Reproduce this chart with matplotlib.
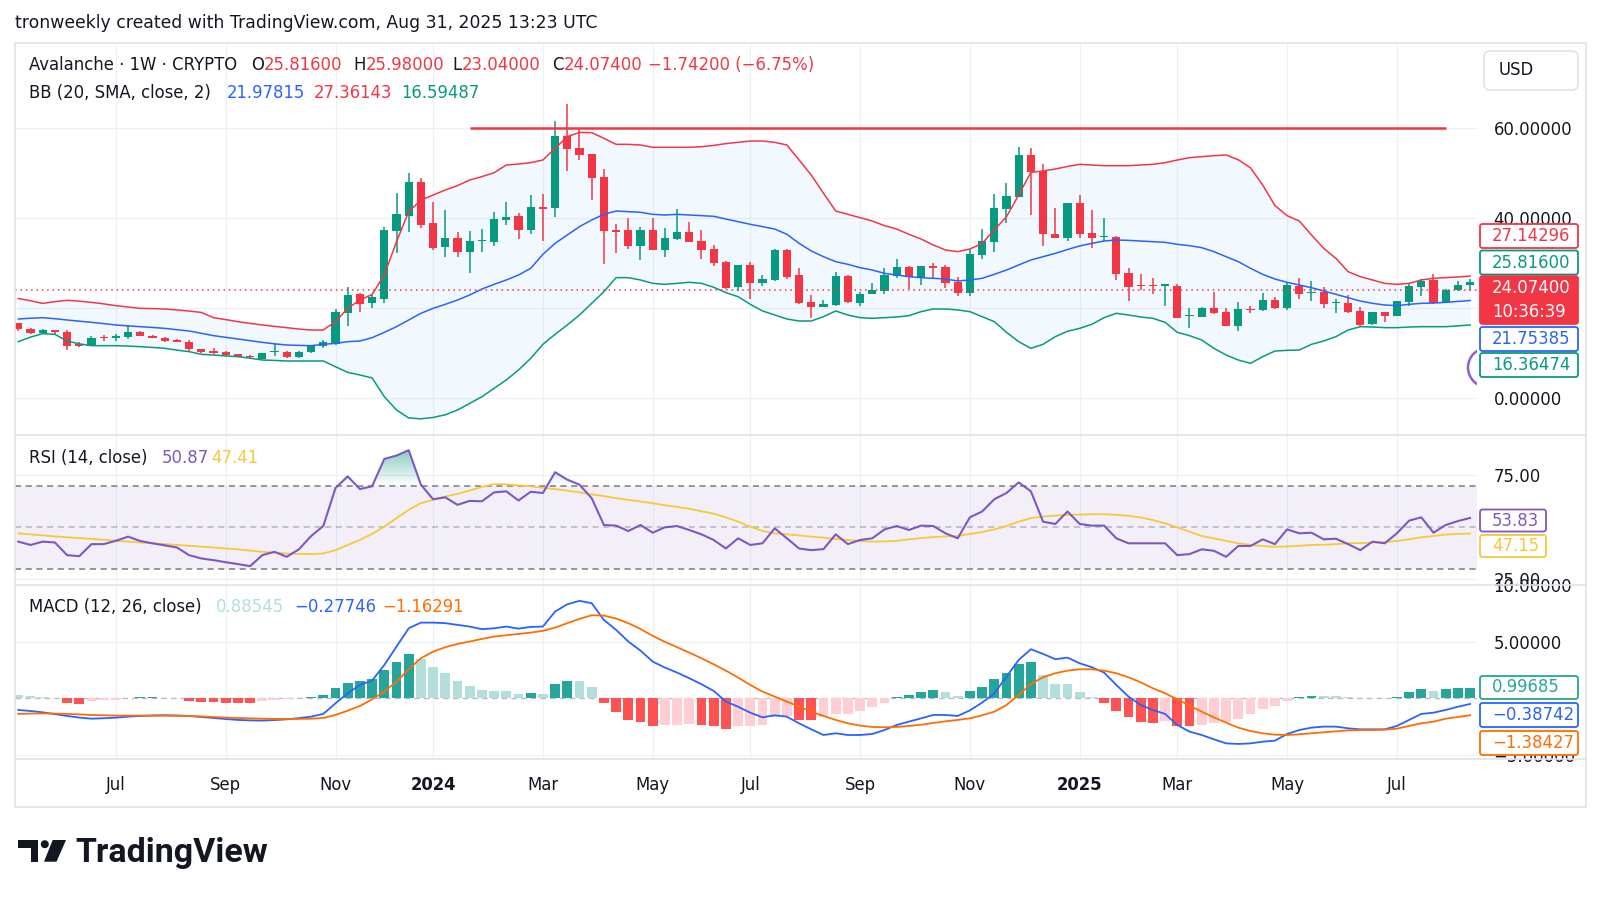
import numpy as np
import pandas as pd
import matplotlib
matplotlib.use("Agg")
import matplotlib.pyplot as plt
from matplotlib.patches import Rectangle, Circle, Polygon, FancyBboxPatch
from matplotlib.transforms import IdentityTransform
from matplotlib.colors import to_rgb
from matplotlib.path import Path

# ---------------- data (weekly AVAX bars) ----------------
opens = [16.56, 15.2, 14.35, 15.08, 14.72, 11.9, 11.6, 13.4, 13.2, 13.6,
         14.56, 13.82, 13.4, 12.8, 12.48, 10.85, 10.3, 10.1, 9.65, 9.3,
         8.62, 10.2, 10.26, 9.0, 10.1, 11.6, 11.9, 18.8, 23.0, 21.02,
         21.99, 37.13, 40.55, 47.97, 38.84, 33.64, 35.5, 32.5, 34.9, 34.6,
         39.6, 40.55, 37.35, 42.4, 42.2, 58.36, 55.7, 54.2, 49.2, 37.35,
         37.35, 33.86, 37.35, 32.9, 35.35, 36.97, 34.9, 33.1, 30.3, 24.73,
         29.56, 25.47, 26.22, 32.9, 27.33, 21.4, 20.2, 20.65, 27.18, 21.02,
         23.1, 23.77, 27.18, 29.19, 26.96, 29.3, 29.19, 25.7, 23.25, 31.77,
         34.6, 42.03, 44.78, 54.06, 50.5, 36.4, 35.5, 43.29, 36.6, 35.7,
         35.87, 27.7, 25.1, 25.0, 25.0, 24.96, 18.1, 18.05, 20.06, 19.0,
         16.05, 19.8, 19.54, 21.76, 19.91, 24.96, 23.4, 23.62, 21.1, 21.02,
         19.32, 16.35, 19.0, 18.27, 21.24, 24.73, 26.22, 21.24, 24.0, 25.2]
highs = [16.75, 15.5, 15.2, 15.15, 15.1, 12.4, 13.8, 14.0, 14.3, 16.3,
         14.9, 13.9, 13.5, 13.1, 12.85, 10.9, 11.0, 10.3, 9.8, 9.5,
         9.9, 12.1, 10.4, 10.3, 11.7, 12.85, 19.7, 24.7, 23.25, 22.9,
         38.1, 45.5, 49.97, 49.0, 43.66, 41.8, 37.0, 37.1, 37.6, 41.3,
         43.7, 41.1, 45.15, 45.4, 61.6, 65.34, 59.85, 54.3, 50.9, 38.8,
         40.1, 38.1, 40.1, 37.9, 41.95, 39.06, 37.35, 34.0, 30.45, 29.6,
         30.3, 27.33, 33.1, 33.1, 28.96, 22.88, 21.76, 28.07, 27.3, 23.6,
         25.6, 28.8, 30.9, 29.3, 29.41, 29.9, 29.56, 26.96, 33.12, 37.57,
         45.3, 47.75, 55.9, 55.54, 51.98, 42.17, 43.4, 45.15, 41.8, 40.1,
         36.0, 28.8, 27.48, 26.74, 25.3, 25.25, 20.06, 20.2, 23.47, 20.06,
         21.24, 20.5, 23.25, 22.5, 25.85, 26.74, 26.0, 24.73, 21.99, 22.88,
         20.28, 19.1, 19.1, 21.6, 25.47, 26.44, 27.48, 24.2, 25.9, 26.4]
lows = [14.9, 14.2, 14.1, 14.1, 10.6, 11.4, 11.5, 12.6, 12.6, 13.1,
        13.7, 13.3, 12.5, 12.3, 10.4, 10.0, 9.8, 9.3, 9.1, 8.8,
        8.55, 9.4, 8.9, 8.95, 10.0, 11.1, 11.8, 16.0, 19.17, 19.9,
        21.0, 32.16, 36.8, 37.7, 32.9, 31.4, 31.4, 27.7, 32.5, 33.9,
        38.5, 35.35, 36.4, 34.9, 40.3, 50.5, 52.95, 44.03, 29.7, 32.16,
        33.1, 30.7, 32.8, 31.4, 35.2, 34.6, 31.0, 29.4, 24.2, 23.77,
        21.99, 24.96, 26.1, 26.44, 20.9, 17.83, 20.1, 20.5, 21.1, 20.5,
        23.0, 23.0, 26.74, 24.21, 25.1, 26.74, 24.51, 22.73, 22.73, 30.9,
        32.5, 38.84, 44.6, 40.7, 33.86, 35.5, 34.9, 35.65, 33.27, 34.9,
        26.2, 21.6, 24.0, 23.0, 20.5, 17.7, 15.6, 17.9, 18.7, 15.95,
        14.86, 18.8, 19.4, 19.8, 19.54, 21.99, 21.54, 19.91, 18.8, 18.9,
        16.05, 16.2, 16.94, 18.1, 20.5, 22.73, 20.9, 21.0, 23.8, 23.7]
closes = [15.2, 14.35, 15.08, 14.72, 11.59, 11.55, 13.37, 13.25, 13.8, 14.6,
          13.82, 13.4, 12.55, 12.5, 10.85, 10.1, 10.0, 9.5, 9.15, 9.0,
          9.88, 10.5, 9.0, 10.26, 11.6, 12.5, 19.15, 22.9, 20.8, 22.36,
          37.35, 40.84, 47.97, 38.47, 33.42, 35.5, 32.5, 34.9, 35.1, 39.8,
          40.3, 37.35, 42.55, 42.0, 58.36, 55.4, 54.06, 49.0, 37.13, 37.0,
          33.86, 37.35, 32.9, 35.5, 36.97, 34.75, 32.9, 29.9, 24.36, 29.56,
          25.47, 26.44, 32.9, 26.96, 21.02, 20.28, 20.8, 27.18, 21.24, 23.17,
          23.99, 27.33, 29.19, 26.96, 29.26, 29.0, 25.47, 23.25, 32.08, 34.9,
          42.17, 45.0, 54.06, 50.35, 36.4, 35.65, 43.29, 36.4, 35.65, 36.1,
          27.48, 24.73, 24.8, 24.8, 25.2, 17.83, 18.4, 20.06, 18.8, 16.05,
          19.76, 19.6, 21.76, 19.91, 25.1, 23.03, 23.6, 20.8, 21.3, 19.02,
          16.2, 19.02, 18.3, 21.54, 24.96, 26.0, 21.02, 24.0, 25.2, 25.82]

bb_upper = [22.1, 21.6, 21.0, 21.4, 21.7, 21.5, 21.24, 20.9, 20.5, 20.2,
            19.9, 19.85, 19.76, 19.55, 19.3, 19.0, 17.83, 17.4, 16.94, 16.55,
            16.2, 15.9, 15.6, 15.3, 15.08, 15.08, 16.94, 19.9, 21.76, 23.0,
            27.33, 34.75, 41.44, 44.0, 45.15, 46.26, 47.23, 48.49, 49.23, 50.12,
            51.83, 52.05, 52.35, 52.94, 55.54, 58.14, 59.1, 59.03, 57.77, 56.43,
            56.43, 56.28, 55.77, 55.77, 55.77, 55.77, 55.9, 56.2, 56.6, 56.88,
            57.17, 57.17, 56.88, 56.28, 52.94, 49.6, 45.52, 41.58, 40.84, 40.1,
            39.36, 38.32, 37.57, 36.39, 35.35, 34.01, 32.9, 32.53, 33.12, 34.38,
            37.35, 40.32, 45.15, 50.2, 50.5, 50.94, 51.5, 51.98, 51.83, 51.68,
            51.68, 51.68, 51.83, 51.98, 52.35, 52.94, 53.46, 53.69, 53.91, 54.06,
            53.0, 51.2, 47.38, 42.8, 40.55, 39.36, 36.24, 33.27, 31.04, 28.07,
            26.96, 26.22, 25.47, 25.25, 25.47, 26.22, 26.59, 26.74, 26.9, 27.1]
bb_mid = [17.53, 17.7, 17.83, 17.6, 17.31, 17.05, 16.79, 16.5, 16.2, 16.0,
          15.82, 15.65, 15.45, 15.15, 14.86, 14.35, 13.82, 13.45, 13.08, 12.7,
          12.33, 12.0, 11.74, 11.65, 11.59, 11.89, 12.11, 12.48, 12.63, 13.37,
          14.56, 15.82, 17.31, 18.8, 19.9, 20.8, 21.76, 22.88, 24.21, 25.25,
          26.22, 27.33, 28.82, 31.93, 34.38, 36.24, 38.1, 39.58, 40.84, 41.58,
          41.44, 41.29, 40.84, 40.69, 40.84, 40.69, 40.55, 40.4, 39.8, 39.21,
          38.62, 38.1, 37.57, 36.39, 34.38, 32.68, 31.41, 30.3, 29.71, 28.96,
          28.44, 27.7, 27.33, 26.96, 26.74, 26.59, 26.44, 26.0, 26.22, 26.59,
          27.48, 28.44, 29.56, 30.67, 31.41, 32.16, 33.0, 33.8, 34.38, 34.9,
          35.12, 35.05, 34.9, 34.75, 34.6, 34.16, 33.86, 33.42, 32.53, 31.41,
          30.3, 28.82, 27.48, 26.44, 25.7, 25.1, 24.51, 23.77, 23.03, 22.28,
          21.54, 21.02, 20.65, 20.5, 20.8, 21.02, 21.09, 21.24, 21.45, 21.65]
bb_lower = [12.48, 13.5, 14.27, 14.12, 12.63, 12.0, 11.59, 11.59, 11.59, 11.5,
            11.37, 11.2, 11.0, 10.6, 10.26, 9.66, 9.51, 9.3, 9.14, 8.8,
            8.4, 8.3, 8.18, 8.18, 8.18, 8.18, 6.9, 5.65, 5.06, 4.4,
            0.23, -2.74, -4.5, -4.7, -4.4, -3.8, -2.74, -1.26, 0.22, 2.09,
            3.95, 6.17, 8.77, 11.89, 14.12, 16.2, 18.42, 21.02, 23.62, 26.74,
            26.74, 26.22, 25.47, 25.25, 25.47, 25.7, 25.47, 24.6, 23.4, 22.5,
            20.8, 19.32, 18.42, 17.53, 17.09, 17.09, 18.05, 19.32, 18.42, 17.83,
            17.68, 17.83, 17.98, 18.27, 19.17, 19.76, 19.76, 19.54, 19.17, 18.05,
            16.94, 14.56, 12.48, 11.0, 11.89, 13.6, 14.8, 15.45, 16.35, 17.83,
            18.8, 18.42, 17.98, 17.68, 16.79, 14.56, 13.82, 12.85, 11.0, 9.51,
            8.4, 7.66, 9.14, 10.4, 10.55, 10.63, 11.89, 12.63, 13.6, 15.08,
            15.82, 15.75, 15.6, 15.6, 15.75, 15.82, 15.82, 15.82, 16.0, 16.2]

rsi = [43.1, 41.5, 43.1, 42.7, 36.6, 36.1, 41.9, 41.9, 43.5, 45.5,
       43.4, 42.3, 41.3, 40.3, 36.6, 35.0, 34.2, 33.2, 32.3, 31.3,
       36.6, 38.2, 35.8, 39.4, 45.8, 50.6, 68.9, 74.5, 68.4, 69.7,
       82.9, 84.5, 87.1, 70.5, 63.5, 64.4, 60.8, 62.7, 62.5, 66.8,
       67.3, 62.9, 67.1, 66.5, 76.5, 72.9, 70.5, 64.0, 51.1, 50.8,
       48.2, 51.1, 47.4, 50.0, 50.6, 48.7, 46.6, 43.9, 39.8, 44.7,
       41.5, 42.3, 49.5, 44.7, 39.8, 39.0, 39.5, 46.6, 41.9, 43.9,
       44.7, 49.0, 50.6, 48.7, 50.8, 50.6, 47.1, 44.7, 54.8, 57.6,
       63.5, 66.5, 71.6, 67.3, 52.7, 51.6, 57.6, 51.6, 50.8, 50.8,
       44.7, 42.3, 42.3, 42.3, 42.3, 36.6, 37.1, 39.4, 38.7, 35.8,
       41.0, 41.0, 44.2, 41.9, 49.0, 47.1, 47.4, 44.2, 44.5, 41.9,
       39.0, 43.1, 42.3, 47.1, 53.2, 54.8, 47.4, 51.1, 53.0, 54.5]
rsi_ma = [47.1, 46.6, 46.1, 45.6, 45.2, 44.8, 44.4, 44.0, 43.5, 43.1,
          42.7, 42.3, 41.9, 41.5, 41.1, 40.7, 40.3, 39.8, 39.4, 38.8,
          38.2, 37.8, 37.4, 37.2, 37.1, 37.4, 39.0, 41.5, 43.9, 46.8,
          50.3, 54.4, 58.4, 61.6, 63.2, 64.8, 66.1, 67.7, 69.4, 70.8,
          70.6, 70.2, 69.7, 69.0, 68.4, 67.6, 66.8, 65.8, 65.0, 64.0,
          63.2, 62.4, 61.6, 60.6, 59.8, 58.9, 57.7, 56.5, 54.8, 52.7,
          50.3, 48.2, 47.1, 46.6, 46.1, 45.5, 45.0, 44.4, 43.9, 43.4,
          43.1, 43.2, 43.5, 44.2, 44.8, 45.3, 45.6, 45.8, 46.8, 47.7,
          49.0, 50.6, 52.7, 54.4, 55.2, 55.6, 56.0, 56.1, 56.3, 56.3,
          56.0, 55.5, 54.7, 53.5, 51.9, 50.0, 47.9, 45.8, 44.7, 43.5,
          42.3, 41.5, 41.0, 40.6, 40.8, 41.1, 41.5, 41.6, 41.9, 42.3,
          42.4, 42.6, 42.9, 43.4, 44.2, 45.2, 45.8, 46.5, 46.8, 47.0]

macd = [-1.03, -1.12, -1.24, -1.4, -1.56, -1.7, -1.80, -1.76, -1.71, -1.62,
        -1.56, -1.52, -1.50, -1.52, -1.56, -1.65, -1.74, -1.83, -1.91, -1.95,
        -1.97, -1.92, -1.86, -1.75, -1.62, -1.38, -0.44, 0.44, 1.18, 1.56,
        2.94, 4.56, 6.18, 6.68, 6.68, 6.63, 6.48, 6.33, 6.1, 6.18,
        6.33, 6.15, 6.30, 6.33, 7.66, 8.30, 8.60, 8.39, 6.92, 6.04,
        5.01, 4.21, 3.24, 2.71, 2.27, 1.77, 1.24, 0.65, -0.29, -0.74,
        -1.27, -1.68, -1.50, -1.62, -2.21, -2.74, -3.24, -3.09, -3.24, -3.24,
        -3.15, -2.80, -2.36, -2.06, -1.77, -1.47, -1.47, -1.56, -1.07, -0.38,
        0.44, 1.91, 3.39, 4.33, 3.92, 3.45, 3.59, 3.09, 2.74, 2.27,
        1.18, 0.15, -0.59, -1.03, -1.38, -2.36, -2.94, -3.24, -3.62, -3.98,
        -4.03, -3.98, -3.83, -3.74, -3.15, -2.80, -2.59, -2.50, -2.50, -2.65,
        -2.74, -2.74, -2.74, -2.44, -1.91, -1.38, -1.27, -1.03, -0.75, -0.5]
signal = [-1.38, -1.35, -1.33, -1.35, -1.38, -1.42, -1.47, -1.50, -1.53, -1.53,
          -1.53, -1.53, -1.53, -1.54, -1.56, -1.60, -1.65, -1.70, -1.74, -1.77,
          -1.80, -1.82, -1.83, -1.82, -1.80, -1.74, -1.47, -1.09, -0.68, -0.09,
          0.59, 1.47, 2.56, 3.53, 4.12, 4.51, 4.80, 5.01, 5.24, 5.45,
          5.57, 5.68, 5.80, 5.95, 6.24, 6.63, 7.01, 7.33, 7.30, 7.04,
          6.63, 6.12, 5.51, 4.98, 4.51, 4.03, 3.53, 3.00, 2.44, 1.83,
          1.18, 0.59, 0.15, -0.29, -0.74, -1.18, -1.56, -1.91, -2.21, -2.41,
          -2.53, -2.56, -2.53, -2.44, -2.33, -2.18, -2.03, -1.91, -1.77, -1.50,
          -1.18, -0.59, 0.29, 1.27, 1.86, 2.21, 2.44, 2.56, 2.56, 2.44,
          2.21, 1.86, 1.41, 0.88, 0.44, -0.09, -0.65, -1.18, -1.68, -2.15,
          -2.59, -2.89, -3.09, -3.21, -3.24, -3.18, -3.09, -3.00, -2.92, -2.83,
          -2.80, -2.80, -2.77, -2.68, -2.44, -2.21, -2.06, -1.80, -1.65, -1.5]
hist = [0.3, 0.18, 0.08, 0.02, -0.38, -0.52, -0.22, -0.18, -0.12, 0.05,
        0.08, 0.1, 0.06, 0.02, -0.2, -0.36, -0.37, -0.38, -0.39, -0.40,
        -0.22, -0.15, -0.08, 0.05, 0.15, 0.3, 0.88, 1.38, 1.56, 1.68,
        2.5, 3.24, 3.92, 3.45, 2.80, 2.21, 1.56, 1.09, 0.70, 0.68,
        0.66, 0.38, 0.44, 0.38, 1.27, 1.56, 1.50, 0.97, -0.38, -1.18,
        -1.91, -2.06, -2.44, -2.40, -2.36, -2.30, -2.36, -2.44, -2.74, -2.44,
        -2.42, -2.36, -1.62, -1.55, -1.91, -1.93, -1.68, -1.38, -1.36, -1.09,
        -0.80, -0.38, 0.15, 0.29, 0.59, 0.74, 0.53, 0.24, 0.68, 0.97,
        1.68, 2.21, 3.03, 3.24, 2.06, 1.27, 1.24, 0.59, 0.15, -0.38,
        -1.09, -1.62, -2.06, -2.21, -2.0, -2.44, -2.46, -2.36, -2.2, -2.06,
        -1.86, -1.38, -0.97, -0.68, -0.2, 0.15, 0.24, 0.22, 0.2, 0.09,
        0.03, 0.06, 0.07, 0.15, 0.53, 0.8, 0.68, 0.82, 0.88, 0.95]

# header / last values
last_open, last_high, last_low, last_close = 25.816, 25.98, 23.04, 24.074
change, change_pct = -1.742, -6.75
bb_legend = (21.97815, 27.36143, 16.59487)        # basis, upper, lower
bb_scale = (27.14296, 21.75385, 16.36474)          # upper, basis, lower
rsi_legend = (50.87, 47.41)
rsi_scale = (53.83, 47.15)
macd_legend = (0.88545, -0.27746, -1.16291)        # hist, macd, signal
macd_scale = (0.99685, -0.38742, -1.38427)
countdown = "10:36:39"
level_line = 60.0
level_from, level_to = 37, 117

price_ticks = [0, 20, 40, 60]
price_hidden = [20]          # label covered by the price-scale labels in the reference
rsi_ticks = [25, 75]
macd_ticks = [-5, 5, 10]

dates = pd.date_range("2023-05-08", periods=len(closes), freq="7D")

# ---------------- style ----------------
UP, DN, BLUE = "#089981", "#F23645", "#2962FF"
PURPLE, YELLOW, ORANGE = "#7E57C2", "#F5C93A", "#FF6D00"
TEXT, GRID, BORDER = "#131722", "#EEF0F4", "#E0E3EB"
FONT = 11.9

W, H = 1600, 900
fig = plt.figure(figsize=(W / 100, H / 100), dpi=100)
fig.patch.set_facecolor("white")
plt.rcParams["font.family"] = ["DejaVu Sans"]


def axes_px(x0, y0, x1, y1):
    return fig.add_axes([x0 / W, 1 - y1 / H, (x1 - x0) / W, (y1 - y0) / H])


def px_rect(x0, y0, x1, y1, rounding=0, **kw):
    if rounding:
        p = FancyBboxPatch((x0, H - y1), x1 - x0, y1 - y0,
                           boxstyle=f"round,pad=0,rounding_size={rounding}",
                           transform=IdentityTransform(), **kw)
    else:
        p = Rectangle((x0, H - y1), x1 - x0, y1 - y0, transform=IdentityTransform(), **kw)
    fig.add_artist(p)
    return p


def px_text(x, y, s, **kw):
    kw.setdefault("va", "center")
    kw.setdefault("ha", "left")
    kw.setdefault("fontsize", FONT)
    kw.setdefault("color", TEXT)
    return fig.text(x / W, 1 - y / H, s, **kw)


renderer = fig.canvas.get_renderer()


def seq_text(x, y, parts, **kw):
    for s, c in parts:
        t = px_text(x, y, s, color=c, **kw)
        x += t.get_window_extent(renderer).width
    return x


def fmt(v, n):
    s = f"{abs(v):.{n}f}"
    return ("\u2212" + s) if v < 0 else s


X0, X1 = 15, 1477
BAR0, BARW = 18.3, 12.2
xlim = ((X0 - BAR0) / BARW, (X1 - BAR0) / BARW)

ax_p = axes_px(X0, 43, X1, 434)
ax_r = axes_px(X0, 435, X1, 583)
ax_m = axes_px(X0, 585, X1, 758)

idx = np.arange(len(closes))
o, h, l, c = map(np.asarray, (opens, highs, lows, closes))

# month ticks
tick_pos, tick_lab, tick_bold = [], [], []
for i in range(1, len(dates)):
    d = dates[i]
    if d.month != dates[i - 1].month and d.month % 2 == 1:
        tick_pos.append(i)
        if d.month == 1:
            tick_lab.append(str(d.year)); tick_bold.append(True)
        else:
            tick_lab.append(d.strftime("%b")); tick_bold.append(False)

for ax in (ax_p, ax_r, ax_m):
    ax.set_facecolor("white")
    for s in ax.spines.values():
        s.set_visible(False)
    ax.set_xlim(*xlim)
    ax.set_xticks(tick_pos)
    ax.yaxis.tick_right()
    ax.tick_params(axis="both", length=0, labelsize=FONT, labelcolor=TEXT)
    ax.tick_params(axis="y", pad=12)
    ax.grid(True, color=GRID, lw=0.9)
    ax.set_axisbelow(True)
    ax.set_xticklabels([])

# ---------------- price pane ----------------
ax = ax_p
ax.set_ylim(-8.08, 79.0)
ax.set_yticks(price_ticks)
ax.set_yticklabels(["" if v in price_hidden else f"{v:.5f}" for v in price_ticks])
ax.fill_between(idx, bb_upper, bb_lower, color="#2196F3", alpha=0.055, lw=0, zorder=1)
cols = np.where(c >= o, UP, DN)
ax.vlines(idx, l, h, colors=cols, lw=1.1, zorder=3)
bh = np.abs(c - o)
mid = (o + c) / 2
bh_draw = np.maximum(bh, 0.25)
ax.bar(idx, bh_draw, bottom=mid - bh_draw / 2, width=0.68, color=cols, lw=0, zorder=4)
ax.plot(idx, bb_upper, color=DN, lw=1.1, zorder=5)
ax.plot(idx, bb_mid, color=BLUE, lw=1.1, zorder=5)
ax.plot(idx, bb_lower, color=UP, lw=1.1, zorder=5)
ax.axhline(last_close, color=DN, ls=(0, (1, 2.5)), lw=1.1, zorder=6)
ax.hlines(level_line, level_from, level_to, color=DN, lw=1.8, zorder=6)
arc = Circle((1487.6, H - 367.5), 19.6, transform=IdentityTransform(), fill=False,
             ec="#8E5CD9", lw=1.8, zorder=7)
ax.add_artist(arc)
ax.set_xlim(*xlim)

# ---------------- RSI pane ----------------
ax = ax_r
ax.set_ylim(23.2, 94.4)
ax.set_yticks(rsi_ticks)
ax.set_yticklabels([f"{v:.2f}" for v in rsi_ticks])
ax.fill_between(list(xlim), 30, 70, color=PURPLE, alpha=0.09, lw=0, zorder=1)
ax.axhline(70, color="#787B86", ls=(0, (4, 3)), lw=1.1, zorder=2)
ax.axhline(50, color="#787B86", ls=(0, (4, 3)), lw=1.1, alpha=0.5, zorder=2)
ax.axhline(30, color="#787B86", ls=(0, (4, 3)), lw=1.1, zorder=2)
rsi_a = np.asarray(rsi)
ob = ax.fill_between(idx, rsi_a, 70, where=rsi_a > 70, interpolate=True,
                     color="none", lw=0)
grad = np.zeros((256, 1, 4))
grad[..., :3] = to_rgb(UP)
grad[..., 3] = np.linspace(0.0, 0.85, 256)[:, None]
im = ax.imshow(grad, extent=[xlim[0], xlim[1], 70, 100], origin="lower",
               aspect="auto", zorder=3, interpolation="bilinear")
paths = ob.get_paths()
if paths:
    im.set_clip_path(Path.make_compound_path(*paths), ax.transData)
ax.plot(idx, rsi_ma, color=YELLOW, lw=1.3, zorder=4)
ax.plot(idx, rsi, color=PURPLE, lw=1.5, zorder=5)
ax.set_xlim(*xlim)
ax.set_ylim(23.2, 94.4)

# ---------------- MACD pane ----------------
ax = ax_m
ax.set_ylim(-5.27, 10.0)
ax.set_yticks(macd_ticks)
ax.set_yticklabels([fmt(v, 5) for v in macd_ticks])
hcols = []
prev = None
for v in hist:
    rising = prev is not None and v > prev
    if v >= 0:
        hcols.append("#26A69A" if rising else "#B2DFDB")
    else:
        hcols.append("#FFCDD2" if rising else "#FF5252")
    prev = v
ax.axhline(0, color="#787B86", ls=(0, (4, 3)), lw=1.0, alpha=0.5, zorder=1)
ax.bar(idx, hist, width=0.8, color=hcols, lw=0, zorder=2)
ax.plot(idx, macd, color=BLUE, lw=1.3, zorder=4)
ax.plot(idx, signal, color=ORANGE, lw=1.3, zorder=4)
ax.set_xticklabels(tick_lab)
ax.tick_params(axis="x", pad=13)
for t, b in zip(ax.get_xticklabels(), tick_bold):
    if b:
        t.set_fontweight("bold")

# ---------------- frame ----------------
px_rect(15, 43, 1586, 807, fill=False, ec=BORDER, lw=1.2, zorder=0.5)
for yy in (434.5, 584.5, 758.5):
    fig.add_artist(plt.Line2D([15 / W, 1586 / W], [1 - yy / H] * 2, color=BORDER, lw=1.2))

# ---------------- texts ----------------
px_text(15, 22.5, "tronweekly created with TradingView.com, Aug 31, 2025 13:23 UTC", fontsize=12.4)

px_text(28.6, 65.5, "Avalanche \u00b7 1W \u00b7 CRYPTO")
for x, letter, val in ((251, "O", last_open), (353.6, "H", last_high),
                       (452.7, "L", last_low), (552, "C", last_close)):
    seq_text(x, 65.5, [(letter, TEXT), (f"{val:.5f}", DN)])
px_text(648, 65.5, f"{fmt(change, 5)} ({fmt(change_pct, 2)}%)", color=DN)

px_text(28.6, 93, "BB (20, SMA, close, 2)")
px_text(227, 93, f"{bb_legend[0]:.5f}", color=BLUE)
px_text(313.7, 93, f"{bb_legend[1]:.5f}", color=DN)
px_text(401.6, 93, f"{bb_legend[2]:.5f}", color=UP)

px_text(28.6, 458, "RSI (14, close)")
px_text(161.5, 458, f"{rsi_legend[0]:.2f}", color=PURPLE)
px_text(211, 458, f"{rsi_legend[1]:.2f}", color=YELLOW)

px_text(28.6, 607, "MACD (12, 26, close)")
px_text(215.5, 607, fmt(macd_legend[0], 5), color="#B2DFDB")
px_text(294, 607, fmt(macd_legend[1], 5), color=BLUE)
px_text(382, 607, fmt(macd_legend[2], 5), color=ORANGE)

# price-scale labels
def scale_label(y0, y1, lines, fc, ec, tc, x1=1578):
    px_rect(1480, y0, x1, y1, rounding=2.5, fc=fc, ec=ec, lw=1.3, zorder=2)
    for s, yy in lines:
        px_text(1492, yy, s, color=tc, zorder=3)

scale_label(224, 248, [(f"{bb_scale[0]:.5f}", 236)], "white", DN, DN)
scale_label(250.5, 274.5, [(f"{last_open:.5f}", 262.5)], "white", UP, UP)
scale_label(276, 324, [(f"{last_close:.5f}", 288), (countdown, 312)], DN, DN, "white")
scale_label(327, 351, [(f"{bb_scale[1]:.5f}", 339)], "white", BLUE, BLUE)
scale_label(353, 377, [(f"{bb_scale[2]:.5f}", 365)], "white", UP, UP)

scale_label(509.5, 531.5, [(f"{rsi_scale[0]:.2f}", 520.5)], "white", PURPLE, PURPLE, x1=1546)
scale_label(535, 557, [(f"{rsi_scale[1]:.2f}", 546)], "white", YELLOW, YELLOW, x1=1546)

scale_label(676, 699, [(fmt(macd_scale[0], 5), 687.5)], "white", "#26A69A", "#26A69A")
scale_label(703, 727, [(fmt(macd_scale[1], 5), 715)], "white", BLUE, BLUE)
scale_label(731, 755, [(fmt(macd_scale[2], 5), 743)], "white", ORANGE, ORANGE)

# currency button
px_rect(1484, 51, 1578, 90, rounding=6, fc="white", ec=BORDER, lw=1.2, zorder=2)
px_text(1499, 70, "USD", zorder=3)

# TradingView logo
px_rect(18.3, 840, 38.3, 847.5, fc=TEXT, ec="none", zorder=2)
px_rect(30.7, 840, 38.3, 861.7, fc=TEXT, ec="none", zorder=2)
fig.add_artist(Circle((44.8, H - 844.2), 4.0, transform=IdentityTransform(), fc=TEXT, ec="none"))
fig.add_artist(Polygon([(52.7, H - 840), (66, H - 840), (56.5, H - 861.7), (44.0, H - 861.7)],
                       closed=True, transform=IdentityTransform(), fc=TEXT, ec="none"))
px_text(75.5, 861.7, "TradingView", va="baseline", fontsize=24.5, fontweight="bold",
        family=["Roboto", "DejaVu Sans"])

fig.savefig("out.png", dpi=100, facecolor="white")
